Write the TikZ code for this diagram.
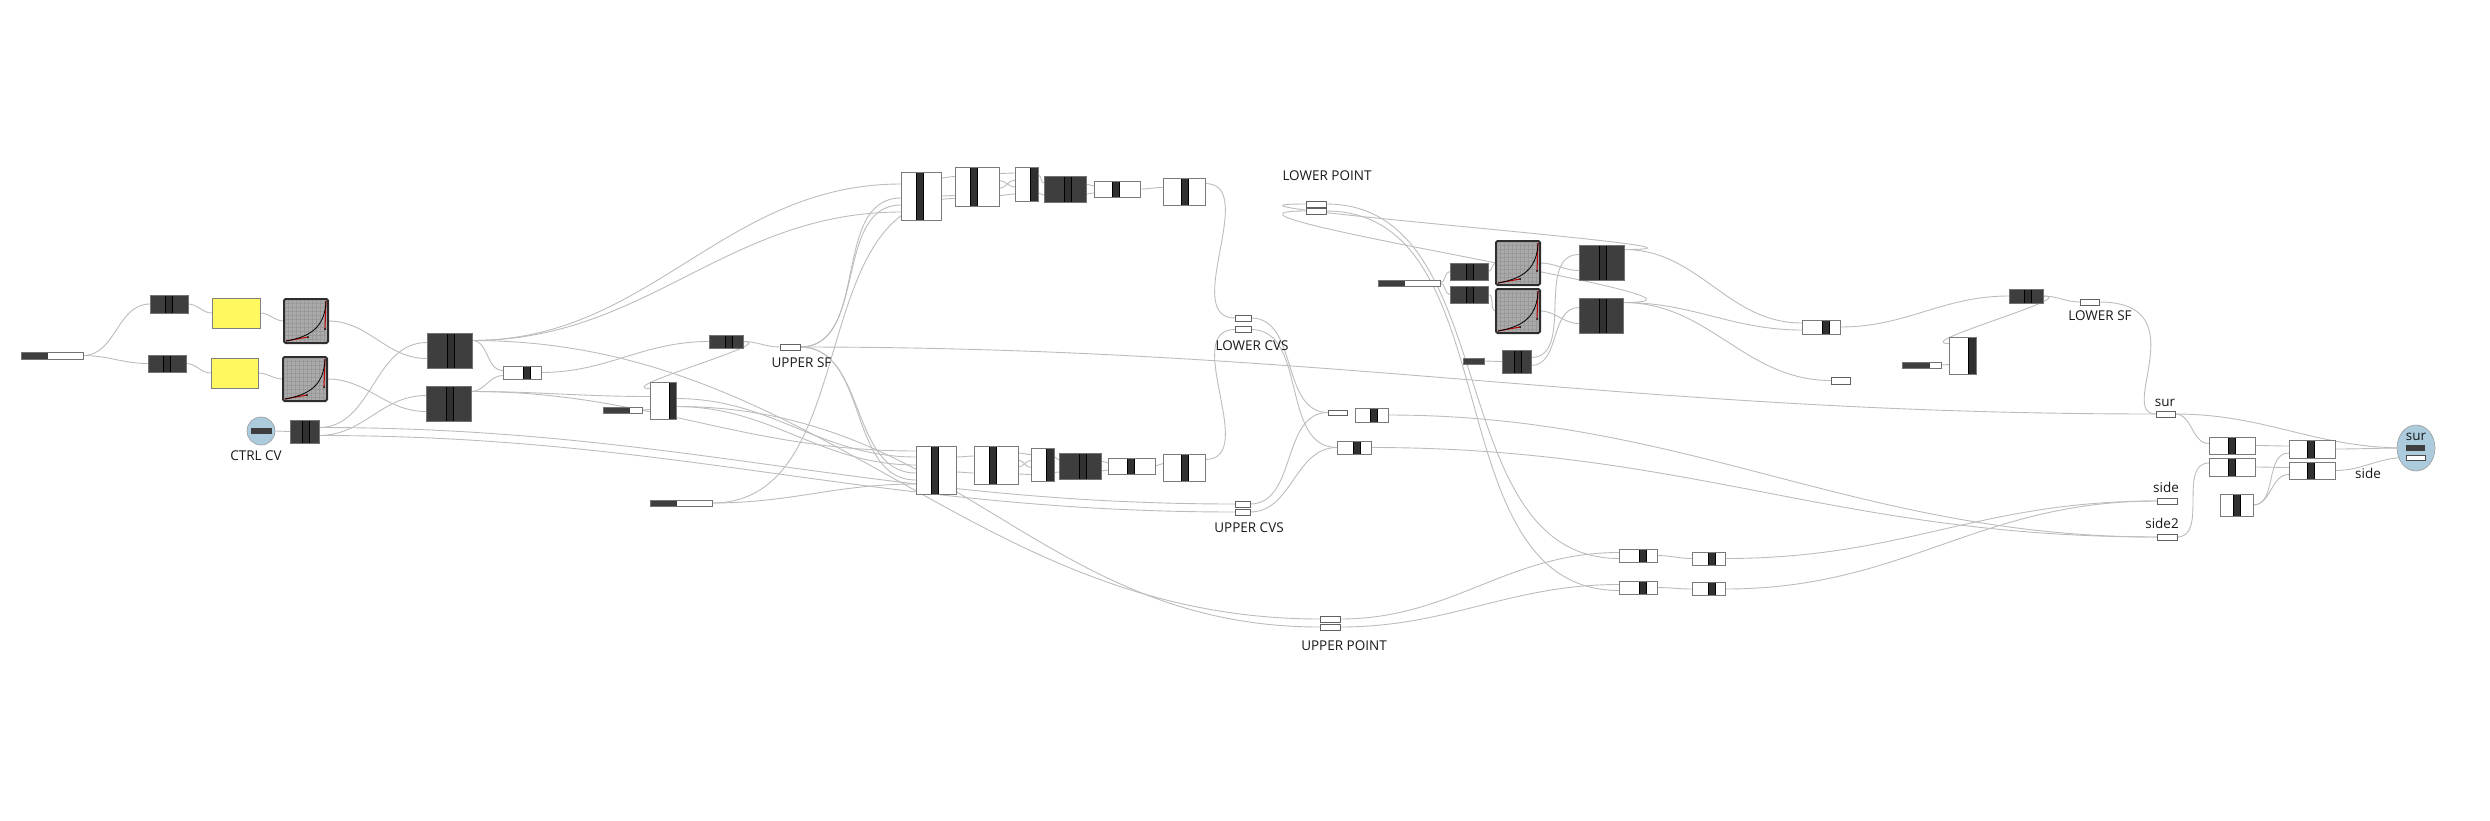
\documentclass[tikz,border=0pt]{standalone}
\usepackage{fontspec}
\setmainfont{Open Sans}
\usetikzlibrary{calc,shapes.geometric}
\definecolor{ghblue}{RGB}{172,204,222}
\definecolor{ghyellow}{RGB}{255,248,94}
\definecolor{ghdark}{RGB}{62,62,62}
\definecolor{ghbar}{RGB}{48,48,48}
\definecolor{ghwire}{RGB}{188,188,188}
\definecolor{ghgrid}{RGB}{170,170,170}
\pgfdeclarelayer{bg}
\pgfsetlayers{bg,main}
\tikzset{
  sz/.style 2 args={minimum width=#1pt, minimum height=#2pt},
  box/.style={draw=black!52, fill=white, line width=0.9pt, inner sep=0pt, outer sep=0pt},
  dbox/.style={draw=black!55, fill=ghdark, line width=0.5pt, inner sep=0pt, outer sep=0pt},
  midbar/.style={path picture={\draw[draw=black, fill=ghbar, line width=0.8pt]
      ($(path picture bounding box.north)+(#1-3.5,0)$) rectangle ($(path picture bounding box.south)+(#1+3.5,0)$);}},
  midbar/.default=0,
  rstrip/.style={path picture={\draw[draw=black, fill=ghbar, line width=0.8pt]
      ($(path picture bounding box.north east)+(-#1,0)$) rectangle (path picture bounding box.south east);}},
  rstrip/.default=7,
  slider/.style={draw=black!55, fill=white, line width=0.8pt, inner sep=0pt, outer sep=0pt,
      path picture={\fill[ghdark] (path picture bounding box.north west) rectangle ($(path picture bounding box.south west)+(#1,0)$);}},
  param/.style={draw=black!62, fill=white, line width=0.9pt, inner sep=0pt, outer sep=0pt},
  panel/.style={draw=black!50, fill=ghyellow, line width=0.8pt, inner sep=0pt, outer sep=0pt},
  graph/.style={draw=black!82, fill=ghgrid, line width=2pt, rounded corners=1.5pt, inner sep=0pt, outer sep=0pt},
  ghcirc/.style={circle, draw=black!40, fill=ghblue, line width=0.6pt, minimum size=28pt, inner sep=0pt},
  ghell/.style={ellipse, draw=black!40, fill=ghblue, line width=0.6pt, minimum width=38pt, minimum height=46pt, inner sep=0pt},
  lbl/.style={font=\fontsize{13.5}{14}\selectfont, inner sep=0pt, text=black!90},
  wire/.style={draw=ghwire, line width=0.9pt, out=0, in=180},
}
\begin{document}
\begin{tikzpicture}[x=1pt,y=-1pt]
\useasboundingbox (0,0) rectangle (2490,820);

% left block
\node[slider=27, sz={62}{7}] (sl1) at (52,355.5) {};
\node[dbox, midbar, sz={38}{18}] (a1) at (169,304) {};
\node[dbox, midbar, sz={38}{17}] (a2) at (167,363.5) {};
\node[panel, sz={48}{30}] (y1) at (236,313) {};
\node[panel, sz={47}{30}] (y2) at (234.5,373) {};
\node[graph, sz={44}{44}] (g1) at (306,321) {};
\node[graph, sz={44}{44}] (g2) at (305,379) {};
\node[dbox, midbar=1.5, sz={45}{35}] (b1) at (449.5,350.5) {};
\node[dbox, midbar=1.5, sz={45}{35}] (b2) at (448.5,403.5) {};
\node[ghcirc] (cv) at (261,431) {};
\node[fill=ghdark, inner sep=0pt, sz={21}{6}] (cvbar) at (261.5,431) {};
\node[lbl] (cvlbl) at (256,456) {CTRL CV};
\node[dbox, midbar=1.5, sz={29}{23}] (c1) at (304.5,431.5) {};

% upper sf block
\node[box, midbar=4.5, sz={38}{13}] (w1) at (522,372.5) {};
\node[dbox, midbar=3, sz={34}{13}] (d3) at (726,341.5) {};
\node[param, sz={20}{6}] (usf) at (790,347) {};
\node[lbl] (usflbl) at (801.5,363) {UPPER SF};
\node[box, rstrip, sz={26}{37}] (t1) at (663,400.5) {};
\node[slider=27, sz={39}{6}] (sl2) at (622.5,410) {};
\node[slider=27, sz={62}{6}] (sl3) at (681,503) {};

% upper chain
\node[box, midbar=-1, sz={40}{48}] (u1) at (921,196) {};
\node[box, midbar=-3, sz={44}{39}] (u2) at (977,186.5) {};
\node[box, rstrip=8, sz={23}{34}] (u3) at (1026.5,184) {};
\node[dbox, midbar=3, sz={42}{26}] (u4) at (1065,189) {};
\node[box, midbar=-1, sz={46}{16}] (u5) at (1117,189) {};
\node[box, midbar=1, sz={42}{27}] (u6) at (1184,191.5) {};

% lower chain
\node[box, midbar=-1, sz={40}{48}] (l1) at (936,470) {};
\node[box, midbar=-3.5, sz={44}{38}] (l2) at (996,465) {};
\node[box, rstrip=8, sz={23}{33}] (l3) at (1042.5,464.5) {};
\node[dbox, midbar=2.5, sz={42}{26}] (l4) at (1080,466) {};
\node[box, midbar=-0.5, sz={47}{16}] (l5) at (1131.5,466) {};
\node[box, midbar=1, sz={42}{27}] (l6) at (1184,467.5) {};

% curve params
\node[param, sz={15}{6}] (ucvs1) at (1242.5,504) {};
\node[param, sz={15}{6}] (ucvs2) at (1242.5,512) {};
\node[lbl] (ucvslbl) at (1249,528) {UPPER CVS};
\node[param, sz={16}{6}] (lcvs1) at (1243,318) {};
\node[param, sz={16}{6}] (lcvs2) at (1243,329.5) {};
\node[lbl] (lcvslbl) at (1252,346) {LOWER CVS};
\node[param, sz={20}{6}] (lpt1) at (1316,204) {};
\node[param, sz={20}{6}] (lpt2) at (1316,211) {};
\node[lbl] (lptlbl) at (1327,176) {LOWER POINT};
\node[param, sz={20}{6}] (upt1) at (1330,619) {};
\node[param, sz={20}{6}] (upt2) at (1330,627) {};
\node[lbl] (uptlbl) at (1344,646) {UPPER POINT};
\node[param, sz={19}{5}] (p1) at (1337.5,412.5) {};
\node[box, midbar=2.5, sz={33}{14}] (m1) at (1371.5,415) {};
\node[box, midbar=3, sz={34}{13}] (m2) at (1354,447.5) {};

% lower sf block
\node[slider=27, sz={62}{6}] (sl4) at (1409,283) {};
\node[dbox, midbar=1, sz={38}{17}] (d5) at (1469,271.5) {};
\node[dbox, midbar=1, sz={38}{17}] (d6) at (1469,294.5) {};
\node[graph, sz={44}{44}] (g3) at (1518,263) {};
\node[graph, sz={44}{44}] (g4) at (1518,311) {};
\node[dbox, midbar=1.5, sz={45}{35}] (b3) at (1601.5,262.5) {};
\node[dbox, midbar=1.5, sz={44}{35}] (b4) at (1601,315.5) {};
\node[slider=21, sz={21}{6}] (sl5) at (1473.5,361) {};
\node[dbox, midbar=1.5, sz={29}{23}] (d7) at (1516.5,361.5) {};
\node[box, midbar=5, sz={38}{14}] (n1) at (1821,327) {};
\node[param, sz={19}{7}] (p2) at (1840.5,380.5) {};
\node[dbox, midbar=2, sz={34}{14}] (d8) at (2026,296) {};
\node[param, sz={19}{6}] (lsf) at (2089.5,302) {};
\node[lbl] (lsflbl) at (2100,316) {LOWER SF};
\node[box, rstrip=8, sz={27}{37}] (t2) at (1962.5,355.5) {};
\node[slider=28, sz={39}{6}] (sl6) at (1921.5,365) {};

% point pairs
\node[box, midbar=5, sz={38}{13}] (r1) at (1638,555.5) {};
\node[box, midbar=5, sz={38}{13}] (r2) at (1638,587.5) {};
\node[box, midbar=3, sz={33}{13}] (r3) at (1708.5,558.5) {};
\node[box, midbar=3, sz={33}{13}] (r4) at (1708.5,589) {};

% output block
\node[param, sz={19}{6}] (sur) at (2165.5,414) {};
\node[lbl] (surlbl) at (2165,403) {sur};
\node[param, sz={20}{6}] (side) at (2167,501) {};
\node[lbl] (sidelbl) at (2166,487) {side};
\node[param, sz={20}{6}] (side2) at (2167,537) {};
\node[lbl] (side2lbl) at (2162,523) {side2};
\node[box, midbar=-0.5, sz={46}{17}] (q1) at (2232,445.5) {};
\node[box, midbar=-0.5, sz={46}{18}] (q2) at (2232,467) {};
\node[box, midbar=-1, sz={46}{18}] (q3) at (2312,449) {};
\node[box, midbar=-1, sz={46}{17}] (q4) at (2312,470.5) {};
\node[box, midbar, sz={33}{22}] (q5) at (2236.5,505) {};
\node[ghell] (surc) at (2416,448) {};
\node[lbl] (surclbl) at (2416,437) {sur};
\node[fill=ghdark, inner sep=0pt, sz={19}{6}] (surin1) at (2415.5,448) {};
\node[draw=black!70, fill=white, line width=0.8pt, inner sep=0pt, sz={19}{5}] (surin2) at (2415.5,457.5) {};
\node[lbl] (sideout) at (2368,473) {side};

% graph mappers
\foreach \g in {g1,g2,g3,g4}{
  \begin{scope}[shift={(\g.south west)}]
    \begin{scope}
      \clip (2,-2) rectangle (42,-42);
      \draw[black!40, line width=0.3pt, step=4pt] (0,0) grid (44,-44);
    \end{scope}
    \draw[red!75!black, line width=1pt] (2,-2) -- (24,-6) (42,-42) -- (41,-14);
    \draw[black, line width=0.8pt] (2,-2) .. controls (24,-6) and (41,-14) .. (42,-42);
    \fill[black] (24,-6) circle (1pt) (41,-14) circle (1pt);
  \end{scope}
}

% wires
\begin{pgfonlayer}{bg}
\draw[wire] (sl1.east) to (a1.west);
\draw[wire] (sl1.east) to (a2.west);
\draw[wire] (a1.east) to (y1.west);
\draw[wire] (a2.east) to (y2.west);
\draw[wire] (y1.east) to (g1.west);
\draw[wire] (y2.east) to (g2.west);
\draw[wire] (g1.east) to ($(b1.west)+(0,8)$);
\draw[wire] (g2.east) to ($(b2.west)+(0,8)$);
\draw[wire] (cv.east) to (c1.west);
\draw[wire] ($(c1.east)+(0,-4)$) to ($(b1.west)+(0,-8)$);
\draw[wire] ($(c1.east)+(0,4)$) to ($(b2.west)+(0,-8)$);
\draw[wire] ($(c1.east)+(0,-4)$) .. controls +(360,0) and +(-360,0) .. (ucvs1.west);
\draw[wire] ($(c1.east)+(0,4)$) .. controls +(360,0) and +(-360,0) .. (ucvs2.west);

\draw[wire] ($(b1.east)+(0,-10)$) to ($(u1.west)+(0,-12)$);
\draw[wire] ($(b1.east)+(0,-10)$) to ($(u1.west)+(0,16)$);
\draw[wire] ($(b1.east)+(0,-10)$) to ($(w1.west)+(0,-2)$);
\draw[wire] ($(b1.east)+(0,-10)$) .. controls +(350,0) and +(-350,0) .. (upt1.west);
\draw[wire] ($(b2.east)+(0,-12)$) to ($(w1.west)+(0,3)$);
\draw[wire] ($(b2.east)+(0,-12)$) to ($(t1.west)+(0,-4)$);
\draw[wire] ($(b2.east)+(0,-12)$) to ($(l1.west)+(0,-19)$);
\draw[wire] (w1.east) to (d3.west);
\draw[wire] (d3.east) to (usf.west);
\draw[wire] (d3.east) .. controls +(40,0) and +(-40,0) .. ($(t1.west)+(0,-12)$);
\draw[wire] (sl2.east) to ($(t1.west)+(0,9)$);
\draw[wire] ($(t1.east)+(0,-2)$) to ($(l1.west)+(0,-13)$);
\draw[wire] ($(t1.east)+(0,6)$) to ($(l1.west)+(0,-5)$);
\draw[wire] ($(t1.east)+(0,6)$) .. controls +(280,0) and +(-280,0) .. (upt2.west);
\draw[wire] (usf.east) to ($(u1.west)+(0,2)$);
\draw[wire] (usf.east) to ($(u1.west)+(0,9)$);
\draw[wire] (usf.east) to ($(l1.west)+(0,3)$);
\draw[wire] (usf.east) to ($(l1.west)+(0,10)$);
\draw[wire] (usf.east) .. controls +(530,0) and +(-530,0) .. (sur.west);
\draw[wire] (sl3.east) to ($(u2.west)+(0,12)$);
\draw[wire] (sl3.east) to ($(l1.west)+(0,14)$);

\draw[wire] ($(u1.east)+(0,-18)$) to ($(u2.west)+(0,-10)$);
\draw[wire] (u1.east) to ($(u2.west)+(0,9)$);
\draw[wire] ($(u2.east)+(0,-13)$) to ($(u3.west)+(0,-11)$);
\draw[wire] ($(u2.east)+(0,-6)$) to ($(u3.west)+(0,3)$);
\draw[wire] ($(u2.east)+(0,2)$) to ($(u3.west)+(0,-4)$);
\draw[wire] ($(u2.east)+(0,9)$) to ($(u3.west)+(0,10)$);
\draw[wire] ($(u3.east)+(0,-9)$) to ($(u4.west)+(0,-6)$);
\draw[wire] ($(u3.east)+(0,9)$) to ($(u4.west)+(0,6)$);
\draw[wire] ($(u4.east)+(0,-5)$) to ($(u5.west)+(0,-3)$);
\draw[wire] ($(u4.east)+(0,5)$) to ($(u5.west)+(0,4)$);
\draw[wire] (u5.east) to ($(u6.west)+(0,-4)$);
\draw[wire] ($(u6.east)+(0,-8)$) .. controls +(55,0) and +(-55,0) .. (lcvs1.west);

\draw[wire] ($(l1.east)+(0,-13)$) to ($(l2.west)+(0,-9)$);
\draw[wire] ($(l1.east)+(0,2)$) to ($(l2.west)+(0,8)$);
\draw[wire] ($(l2.east)+(0,-12)$) to ($(l3.west)+(0,-10)$);
\draw[wire] ($(l2.east)+(0,-5)$) to ($(l3.west)+(0,3)$);
\draw[wire] ($(l2.east)+(0,2)$) to ($(l3.west)+(0,-4)$);
\draw[wire] ($(l2.east)+(0,9)$) to ($(l3.west)+(0,10)$);
\draw[wire] ($(l3.east)+(0,-8)$) to ($(l4.west)+(0,-6)$);
\draw[wire] ($(l3.east)+(0,8)$) to ($(l4.west)+(0,6)$);
\draw[wire] ($(l4.east)+(0,-5)$) to ($(l5.west)+(0,-3)$);
\draw[wire] ($(l4.east)+(0,5)$) to ($(l5.west)+(0,4)$);
\draw[wire] (l5.east) to ($(l6.west)+(0,-4)$);
\draw[wire] ($(l6.east)+(0,-8)$) .. controls +(55,0) and +(-55,0) .. (lcvs2.west);

\draw[wire] (lcvs1.east) to (p1.west);
\draw[wire] (lcvs2.east) to (m2.west);
\draw[wire] (ucvs1.east) to (p1.west);
\draw[wire] (ucvs2.east) to (m2.west);
\draw[wire] (m1.east) .. controls +(300,0) and +(-300,0) .. (side2.west);
\draw[wire] (m2.east) .. controls +(320,0) and +(-320,0) .. (side2.west);

\draw[wire] ($(b3.east)+(0,-13)$) .. controls +(150,0) and +(-150,0) .. (lpt1.west);
\draw[wire] ($(b4.east)+(0,-13)$) .. controls +(150,0) and +(-150,0) .. (lpt2.west);
\draw[wire] (lpt1.east) to ($(r1.west)+(0,3)$);
\draw[wire] (lpt2.east) to ($(r2.west)+(0,3)$);
\draw[wire] (upt1.east) to ($(r1.west)+(0,-3)$);
\draw[wire] (upt2.east) to ($(r2.west)+(0,-3)$);
\draw[wire] (r1.east) to (r3.west);
\draw[wire] (r2.east) to (r4.west);
\draw[wire] (r3.east) .. controls +(180,0) and +(-180,0) .. (side.west);
\draw[wire] (r4.east) .. controls +(180,0) and +(-180,0) .. (side.west);

\draw[wire] (sl4.east) to (d5.west);
\draw[wire] (sl4.east) to (d6.west);
\draw[wire] (d5.east) to (g3.west);
\draw[wire] (d6.east) to (g4.west);
\draw[wire] (g3.east) to ($(b3.west)+(0,8)$);
\draw[wire] (g4.east) to ($(b4.west)+(0,8)$);
\draw[wire] (sl5.east) to (d7.west);
\draw[wire] ($(d7.east)+(0,-4)$) to ($(b3.west)+(0,-8)$);
\draw[wire] ($(d7.east)+(0,4)$) to ($(b4.west)+(0,-8)$);
\draw[wire] ($(b3.east)+(0,-13)$) to ($(n1.west)+(0,-4)$);
\draw[wire] ($(b4.east)+(0,-13)$) to ($(n1.west)+(0,3)$);
\draw[wire] ($(b4.east)+(0,-13)$) to (p2.west);
\draw[wire] (n1.east) to (d8.west);
\draw[wire] (d8.east) to (lsf.west);
\draw[wire] (d8.east) .. controls +(40,0) and +(-40,0) .. ($(t2.west)+(0,-12)$);
\draw[wire] (sl6.east) to ($(t2.west)+(0,9)$);
\draw[wire] (lsf.east) .. controls +(100,0) and +(-40,0) .. (sur.west);
\draw[wire] (sur.east) to ($(q1.west)+(0,-2)$);
\draw[wire] (sur.east) to (surin1.west);
\draw[wire] (q1.east) to ($(q3.west)+(0,-3)$);
\draw[wire] (q2.east) to ($(q4.west)+(0,-3)$);
\draw[wire] (q5.east) to ($(q3.west)+(0,4)$);
\draw[wire] (q5.east) to ($(q4.west)+(0,4)$);
\draw[wire] (side2.east) to ($(q2.west)+(0,-4)$);
\draw[wire] (q3.east) to (surin1.west);
\draw[wire] (q4.east) to (surin2.west);
\end{pgfonlayer}
\end{tikzpicture}
\end{document}
